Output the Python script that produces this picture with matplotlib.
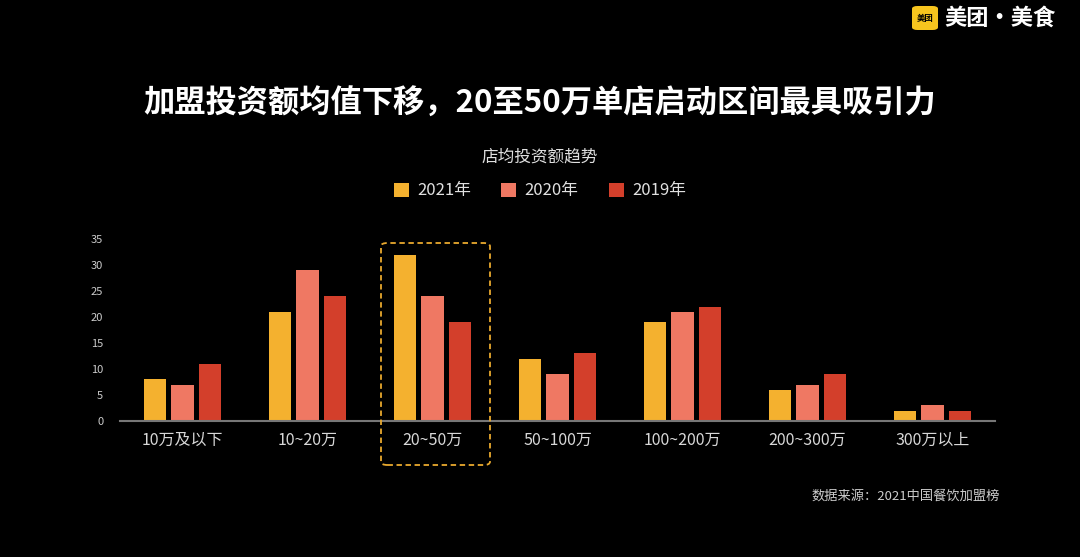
import matplotlib
matplotlib.use("Agg")
import matplotlib.pyplot as plt
from matplotlib.patches import FancyBboxPatch
import numpy as np

plt.rcParams['font.family'] = ['Noto Sans CJK SC', 'DejaVu Sans']

categories = ["10万及以下", "10~20万", "20~50万", "50~100万", "100~200万", "200~300万", "300万以上"]
series_names = ["2021年", "2020年", "2019年"]
v2021 = [8, 21, 32, 12, 19, 6, 2]
v2020 = [7, 29, 24, 9, 21, 7, 3]
v2019 = [11, 24, 19, 13, 22, 9, 2]
colors = ["#f4b12f", "#ef7863", "#d33f2b"]
yticks = [0, 5, 10, 15, 20, 25, 30, 35]

W, H = 1080, 557
fig = plt.figure(figsize=(W/100, H/100), dpi=100, facecolor="black")
ax = fig.add_axes([120/W, 1-421/H, 875/W, (421-239)/H])
ax.set_facecolor("black")
x = np.arange(len(categories))
bw, off = 0.18, 0.22
for i, (vals, c, n) in enumerate(zip([v2021, v2020, v2019], colors, series_names)):
    ax.bar(x + (i-1)*off, vals, bw, color=c, label=n)
ax.set_xlim(-0.5, len(categories)-0.5)
ax.set_ylim(0, 35)
ax.set_yticks(yticks)
ax.set_xticks(x)
ax.set_xticklabels(categories, color="#d8d8d8", fontsize=11.5)
ax.tick_params(axis='y', colors="#cccccc", labelsize=8, length=0, pad=12)
ax.tick_params(axis='x', length=0, pad=8)
for s in ["top", "right", "left"]:
    ax.spines[s].set_visible(False)
ax.spines["bottom"].set_color("#777777")
ax.spines["bottom"].set_linewidth(1.5)

fig.patches.append(FancyBboxPatch((381/W, 1-465/H), 109/W, 222/H, boxstyle="round,pad=0,rounding_size=0.006",
                                  transform=fig.transFigure, fill=False, edgecolor="#e9a92e",
                                  linestyle=(0, (3, 2)), linewidth=1.3))

fig.text(0.5, 1-104/H, "加盟投资额均值下移，20至50万单店启动区间最具吸引力", color="white",
         fontsize=22.5, fontweight="bold", ha="center", va="center")
fig.text(0.5, 1-157/H, "店均投资额趋势", color="#e0e0e0", fontsize=12, ha="center", va="center")
fig.legend(loc="center", bbox_to_anchor=(0.5, 1-191/H), ncol=3, frameon=False,
           fontsize=12, labelcolor="#e0e0e0", handlelength=0.9, handleheight=0.9,
           columnspacing=1.8, handletextpad=0.5)
fig.text(1000/W, 1-496/H, "数据来源：2021中国餐饮加盟榜", color="#cccccc", fontsize=9.5, ha="right", va="center")

fig.patches.append(FancyBboxPatch((912/W, 1-30/H), 26/W, 24/H, boxstyle="round,pad=0,rounding_size=0.005",
                                  transform=fig.transFigure, facecolor="#f7c51e", edgecolor="none"))
fig.text(925/W, 1-18/H, "美团", color="black", fontsize=6, ha="center", va="center", fontweight="bold")
fig.text(944/W, 1-18/H, "美团·美食", color="white", fontsize=16, ha="left", va="center", fontweight="bold")

fig.savefig("out.png", dpi=100, facecolor="black")
